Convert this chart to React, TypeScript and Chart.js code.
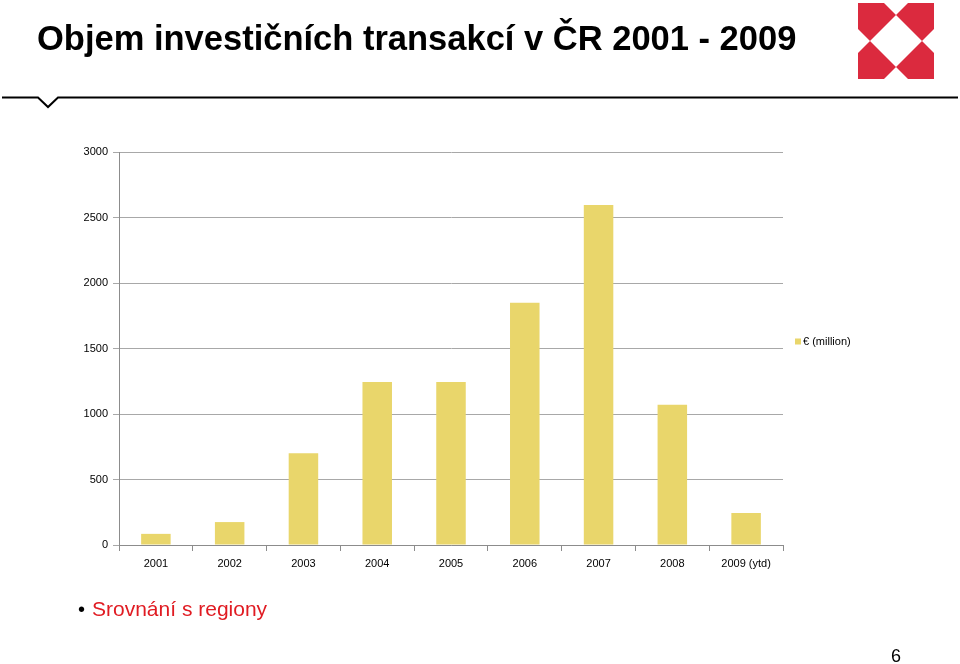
import React, { useEffect, useRef } from "react";
import { Chart, registerables } from "chart.js";

Chart.register(...registerables);

const categories = ["2001", "2002", "2003", "2004", "2005", "2006", "2007", "2008", "2009 (ytd)"];
const values = [85, 175, 700, 1245, 1245, 1850, 2595, 1070, 245];
const seriesLabel = "€ (million)";
const yTicks = [0, 500, 1000, 1500, 2000, 2500, 3000];

const FONT = "'Liberation Sans', Arial, sans-serif";
const BAR = "#e9d66b";

const legendPlugin = {
  id: "sideLegend",
  afterDraw(chart: any) {
    const ctx = chart.ctx;
    const area = chart.chartArea;
    const ds = chart.data.datasets[0];
    const x = area.right + 12;
    const y = (area.top + area.bottom) / 2 - 7;
    ctx.save();
    ctx.fillStyle = ds.backgroundColor;
    ctx.fillRect(x, y - 3, 6, 6);
    ctx.fillStyle = "#000";
    ctx.font = `11px ${FONT}`;
    ctx.textBaseline = "middle";
    ctx.textAlign = "left";
    ctx.fillText(ds.label, x + 8, y + 0.5);
    ctx.restore();
  },
};

function Logo() {
  const c = 896, t = 41, h = 38, d = 26, n = 12;
  const L = c - h, R = c + h, T = t - h, B = t + h;
  const pieces = [
    [[L, T], [c - n, T], [c, t - d], [c - d, t], [L, t - n]],
    [[R, T], [c + n, T], [c, t - d], [c + d, t], [R, t - n]],
    [[L, B], [c - n, B], [c, t + d], [c - d, t], [L, t + n]],
    [[R, B], [c + n, B], [c, t + d], [c + d, t], [R, t + n]],
  ];
  return (
    <svg width={960} height={664} style={{ position: "absolute", left: 0, top: 0, pointerEvents: "none" }}>
      {pieces.map((p, i) => (
        <polygon key={i} points={p.map((q) => q.join(",")).join(" ")} fill="#db2a3e" />
      ))}
      <polyline points="2,97.5 38,97.5 48,107 58,97.5 958,97.5" fill="none" stroke="#000" strokeWidth={2} />
    </svg>
  );
}

export default function App() {
  const ref = useRef<HTMLCanvasElement>(null);
  useEffect(() => {
    if (!ref.current) return;
    const chart = new Chart(ref.current, {
      type: "bar",
      data: {
        labels: categories,
        datasets: [
          {
            label: seriesLabel,
            data: values,
            backgroundColor: BAR,
            barPercentage: 0.4,
            categoryPercentage: 1,
          },
        ],
      },
      options: {
        animation: false,
        responsive: false,
        maintainAspectRatio: false,
        layout: { padding: { left: 0, right: 177, top: 152, bottom: 0 } },
        plugins: { legend: { display: false }, tooltip: { enabled: false } },
        scales: {
          x: {
            offset: true,
            grid: { display: true, drawOnChartArea: false, drawTicks: true, tickLength: 6, color: "#8c8c8c", offset: true },
            border: { color: "#8c8c8c", width: 1 },
            ticks: { color: "#000", font: { family: FONT, size: 11 }, padding: 6, maxRotation: 0 },
            afterFit: (s: any) => { s.height = 119; },
          },
          y: {
            min: 0,
            max: 3000,
            afterBuildTicks: (s: any) => { s.ticks = yTicks.map((v) => ({ value: v })); },
            grid: { color: "#a8a8a8", tickLength: 6, drawTicks: true },
            border: { color: "#8c8c8c", width: 1 },
            ticks: { color: "#000", font: { family: FONT, size: 11 }, padding: 5, callback: (v: any) => String(v) },
            afterFit: (s: any) => { s.width = 119; },
          },
        },
      },
      plugins: [legendPlugin],
    });
    return () => chart.destroy();
  }, []);

  return (
    <div style={{ position: "fixed", left: 0, top: 0, width: 960, height: 664, background: "#fff", overflow: "hidden", fontFamily: FONT }}>
      <canvas ref={ref} width={960} height={664} style={{ position: "absolute", left: 0, top: 0, width: 960, height: 664 }} />
      <Logo />
      <div style={{ position: "absolute", left: 37, top: 18, fontSize: 34.5, fontWeight: "bold", color: "#000", whiteSpace: "nowrap", lineHeight: "40px" }}>
        Objem investičních transakcí v ČR 2001 - 2009
      </div>
      <div style={{ position: "absolute", left: 78, top: 595, fontSize: 21, color: "#e01b22", whiteSpace: "nowrap", lineHeight: "28px" }}>
        <span style={{ fontSize: 20, marginRight: 7, color: "#000" }}>•</span>Srovnání s regiony
      </div>
      <div style={{ position: "absolute", left: 891, top: 645, fontSize: 18, color: "#000", lineHeight: "22px" }}>6</div>
    </div>
  );
}
